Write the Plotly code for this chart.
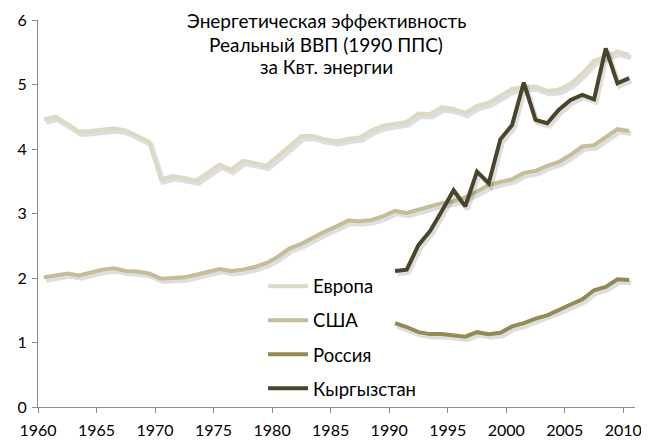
import plotly.graph_objects as go

years = list(range(1960, 2011))
years_recent = list(range(1990, 2011))

europe = [4.46, 4.50, 4.39, 4.27, 4.28, 4.30, 4.32, 4.29, 4.20, 4.11,
          3.53, 3.58, 3.55, 3.51, 3.63, 3.76, 3.68, 3.82, 3.78, 3.74,
          3.89, 4.04, 4.20, 4.20, 4.15, 4.12, 4.16, 4.18, 4.29, 4.36,
          4.39, 4.42, 4.55, 4.54, 4.65, 4.62, 4.56, 4.67, 4.72, 4.82,
          4.93, 4.96, 4.97, 4.90, 4.92, 5.01, 5.17, 5.37, 5.43, 5.51, 5.46]
usa = [2.01, 2.04, 2.07, 2.04, 2.09, 2.13, 2.15, 2.11, 2.10, 2.07,
       1.99, 2.00, 2.01, 2.05, 2.09, 2.14, 2.11, 2.13, 2.17, 2.23,
       2.33, 2.46, 2.53, 2.63, 2.72, 2.80, 2.89, 2.88, 2.90, 2.96,
       3.04, 3.01, 3.06, 3.10, 3.16, 3.19, 3.25, 3.34, 3.44, 3.49,
       3.53, 3.63, 3.66, 3.74, 3.80, 3.91, 4.04, 4.06, 4.18, 4.31, 4.28]
russia = [1.30, 1.24, 1.16, 1.13, 1.13, 1.11, 1.09, 1.16, 1.13, 1.15,
          1.25, 1.30, 1.37, 1.42, 1.51, 1.59, 1.67, 1.81, 1.86, 1.98, 1.97]
kyrgyz = [2.11, 2.13, 2.51, 2.73, 3.04, 3.36, 3.11, 3.65, 3.47, 4.15,
          4.37, 5.03, 4.45, 4.40, 4.61, 4.76, 4.84, 4.77, 5.56, 5.02, 5.10]

series_names = ["Европа", "США", "Россия", "Кыргызстан"]
series_colors = ["#DDD9C3", "#C4BD97", "#948A54", "#4A452A"]
tick_years = [1960, 1965, 1970, 1975, 1980, 1985, 1990, 1995, 2000, 2005, 2010]
title_lines = ["Энергетическая эффективность", "Реальный ВВП (1990 ППС)", "за Квт. энергии"]

FONT = "Lato"

fig = go.Figure()
data = [(years, europe), (years, usa), (years_recent, russia), (years_recent, kyrgyz)]
for (xs, ys), name, color in zip(data, series_names, series_colors):
    # soft drop shadow
    fig.add_trace(go.Scatter(
        x=[v + 0.18 for v in xs], y=[v - 0.045 for v in ys], mode="lines",
        line=dict(color="rgba(0,0,0,0.13)", width=5), showlegend=False,
        hoverinfo="skip", legendgroup=name))
    fig.add_trace(go.Scatter(
        x=xs, y=ys, mode="lines", name=name, legendgroup=name,
        line=dict(color=color, width=4)))

# page body has an 8px margin, so the figure is drawn 8px smaller
W, H = 641, 434
ML, MR, MT, MB = 30, 14, 12, 35
title_y = [1.0, 0.937, 0.879]

fig.update_layout(
    width=W, height=H,
    margin=dict(l=ML, r=MR, t=MT, b=MB, autoexpand=False),
    paper_bgcolor="white", plot_bgcolor="white",
    font=dict(family=FONT, size=16, color="#000000"),
    showlegend=True,
    legend=dict(x=0.377, y=0.36, xanchor="left", yanchor="top",
                bgcolor="rgba(0,0,0,0)", traceorder="grouped",
                tracegroupgap=7, font=dict(family=FONT, size=18.5, color="#000000"),
                itemwidth=40),
    xaxis=dict(range=[1959.5, 2010.5], tickvals=[y - 0.5 for y in tick_years],
               ticktext=[str(y) for y in tick_years], showgrid=False, zeroline=False,
               showline=True, linecolor="#8C8C8C", linewidth=1, automargin=False,
               ticks="outside", ticklen=5, tickcolor="#8C8C8C", ticklabelstandoff=4,
               tickfont=dict(family=FONT, size=16, color="#000000")),
    yaxis=dict(range=[0, 6], dtick=1, showgrid=False, zeroline=False,
               showline=True, linecolor="#8C8C8C", linewidth=1, automargin=False,
               ticks="outside", ticklen=5, tickcolor="#8C8C8C", ticklabelstandoff=2,
               tickfont=dict(family=FONT, size=16, color="#000000")),
    annotations=[dict(text=t, xref="paper", yref="paper",
                      x=(326 - 38) / (W - ML - MR), y=ty, xanchor="center",
                      yanchor="middle", showarrow=False,
                      font=dict(family=FONT, size=19, color="#000000"))
                 for t, ty in zip(title_lines, title_y)],
)

fig.write_html("out.html")
